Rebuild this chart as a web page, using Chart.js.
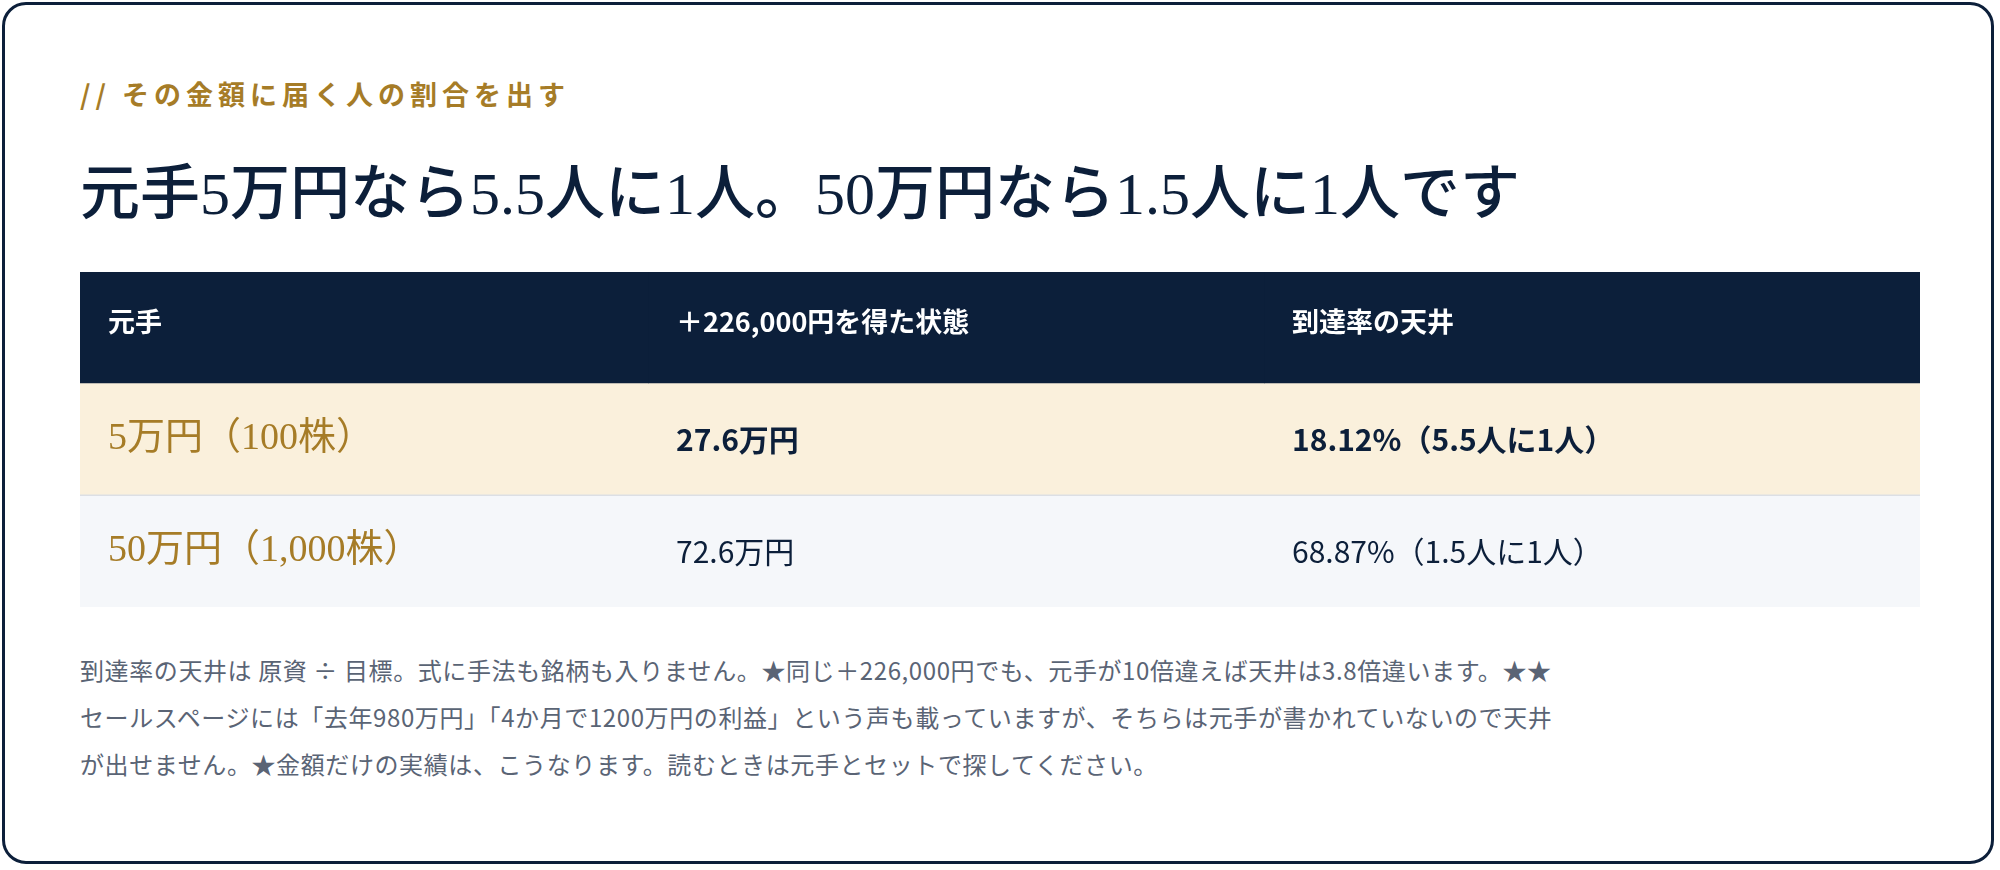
<!DOCTYPE html>
<html><head><meta charset="utf-8">
<script src="https://cdn.jsdelivr.net/npm/chart.js@4"></script>
<style>
html,body{margin:0;padding:0;background:#fff;width:2000px;height:870px;overflow:hidden}
.card{position:absolute;left:2px;top:2px;width:1992px;height:862px;border:3px solid #0c1f3a;border-radius:24px;box-sizing:border-box}
.sub{position:absolute;left:80px;top:74px;font:bold 27px "Noto Sans CJK JP",sans-serif;color:#a67c27;letter-spacing:5px}
.title{position:absolute;left:80px;top:144px;font:500 60px "Liberation Serif","Noto Sans CJK JP",serif;color:#0c1f3a;white-space:nowrap}
#wrap{position:absolute;left:80px;top:272px;width:1840px;height:335px}
.note{position:absolute;left:80px;top:646px;width:1850px;font:24px "Noto Sans CJK JP",sans-serif;color:#5a6475;line-height:47px;letter-spacing:0.6px}
</style></head><body>
<div class="card"></div>
<div class="sub">// その金額に届く人の割合を出す</div>
<div class="title">元手5万円なら5.5人に1人。50万円なら1.5人に1人です</div>
<div id="wrap"><canvas id="c"></canvas></div>
<div class="note">到達率の天井は 原資 ÷ 目標。式に手法も銘柄も入りません。★同じ＋226,000円でも、元手が10倍違えば天井は3.8倍違います。★★<br>セールスページには「去年980万円」「4か月で1200万円の利益」という声も載っていますが、そちらは元手が書かれていないので天井<br>が出せません。★金額だけの実績は、こうなります。読むときは元手とセットで探してください。</div>
<script>
const rows = ['header','row1','row2'];
const headers = ['元手','＋226,000円を得た状態','到達率の天井'];
const capital = ['5万円（100株）','50万円（1,000株）'];
const balance = ['27.6万円','72.6万円'];
const ceiling = ['18.12%（5.5人に1人）','68.87%（1.5人に1人）'];
const colWidths = [568,616,656];
const rowBg = ['#0c1f3a','#faf0dc','#f5f7fa'];
const cellText = [headers, [capital[0],balance[0],ceiling[0]], [capital[1],balance[1],ceiling[1]]];

const textPlugin = {id:'txt', afterDatasetsDraw(chart){
  const ctx = chart.ctx;
  chart.data.datasets.forEach((ds,di)=>{
    chart.getDatasetMeta(di).data.forEach((bar,ri)=>{
      const left = Math.min(bar.x, bar.base);
      const t = cellText[ri][di];
      ctx.save(); ctx.textBaseline='middle';
      if(ri===0){ctx.fillStyle='#fff';ctx.font='bold 27px "Noto Sans CJK JP",sans-serif';}
      else if(di===0){ctx.fillStyle='#a67c27';ctx.font='38px "Liberation Serif","Noto Sans CJK JP",serif';}
      else {ctx.fillStyle='#0c1f3a';ctx.font=(ri===1?'bold ':'')+'30px "Noto Sans CJK JP",sans-serif';}
      ctx.fillText(t, left+28, bar.y+(ri===0?-6:0));
      ctx.restore();
    });
  });
  const m = chart.getDatasetMeta(0).data;
  ctx.save();ctx.strokeStyle='#dcdfe4';ctx.lineWidth=1.5;
  const yb = (m[1].y+m[2].y)/2;
  ctx.beginPath();ctx.moveTo(chart.chartArea.left,yb);ctx.lineTo(chart.chartArea.right,yb);ctx.stroke();ctx.restore();
}};

new Chart(document.getElementById('c'),{
  type:'bar',
  data:{labels:rows,datasets:colWidths.map(w=>({data:rows.map(()=>w),backgroundColor:rowBg,borderWidth:0,barPercentage:1,categoryPercentage:1}))},
  options:{indexAxis:'y',responsive:true,maintainAspectRatio:false,animation:false,
    layout:{padding:0},
    plugins:{legend:{display:false},tooltip:{enabled:false}},
    scales:{x:{stacked:true,display:false,min:0,max:1840},y:{stacked:true,display:false}}},
  plugins:[textPlugin]
});
</script>
</body></html>
